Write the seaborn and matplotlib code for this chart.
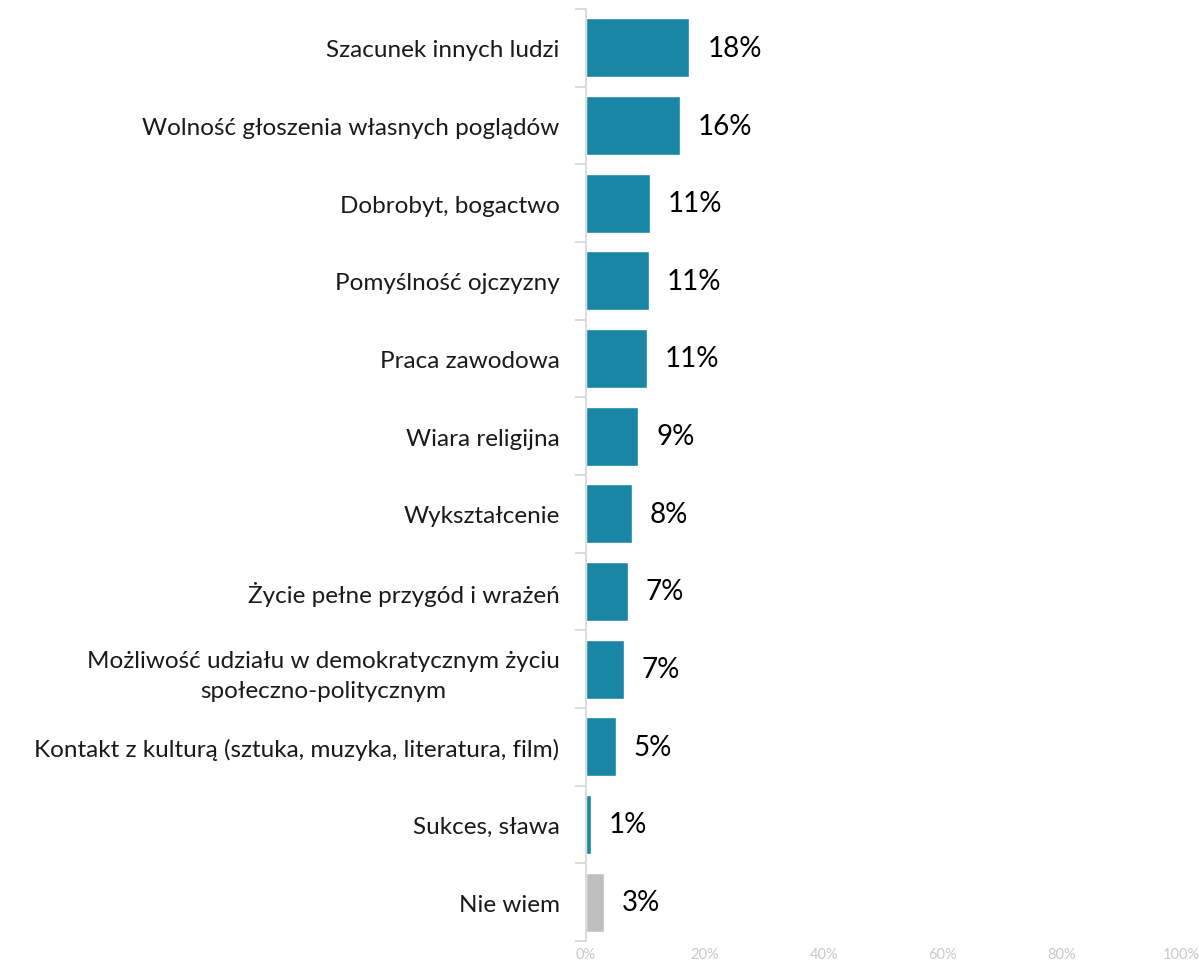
import numpy as np
import pandas as pd
import matplotlib
matplotlib.use('Agg')
import matplotlib.pyplot as plt
import seaborn as sns
from matplotlib.ticker import PercentFormatter

categories = [
    'Szacunek innych ludzi',
    'Wolność głoszenia własnych poglądów',
    'Dobrobyt, bogactwo',
    'Pomyślność ojczyzny',
    'Praca zawodowa',
    'Wiara religijna',
    'Wykształcenie',
    'Życie pełne przygód i wrażeń',
    'Możliwość udziału w demokratycznym życiu\nspołeczno-politycznym',
    'Kontakt z kulturą (sztuka, muzyka, literatura, film)',
    'Sukces, sława',
    'Nie wiem',
]
values = [17.4, 15.8, 10.7, 10.6, 10.3, 8.8, 7.7, 7.0, 6.4, 5.0, 0.9, 3.0]
labels = ['18%', '16%', '11%', '11%', '11%', '9%', '8%', '7%', '7%', '5%', '1%', '3%']
groups = ['main'] * 11 + ['dk']

df = pd.DataFrame({'cat': categories, 'val': values, 'grp': groups})

sns.set_style('white')
plt.rcParams['font.family'] = ['Lato', 'DejaVu Sans']

fig = plt.figure(figsize=(11.99, 9.62), dpi=100)
ax = fig.add_axes([0.4887, 0.0208, 0.4963, 0.9688])

sns.barplot(data=df, x='val', y='cat', hue='grp', dodge=False, legend=False,
            palette={'main': '#1a86a6', 'dk': '#bfbfbf'}, saturation=1,
            width=0.76, ax=ax)

for i, (v, lab) in enumerate(zip(values, labels)):
    ax.text(v + 3.0, i, lab, va='center', ha='left', fontsize=20, color='black')

ax.set_xlim(0, 100)
ax.set_ylim(11.5, -0.5)
ax.set_xlabel('')
ax.set_ylabel('')
ax.xaxis.set_major_formatter(PercentFormatter(decimals=0))
ax.set_xticks([0, 20, 40, 60, 80, 100])
ax.tick_params(axis='x', length=0, labelsize=10.5, labelcolor='#c8c8c8', pad=4)

ax.set_yticks(np.arange(len(categories)))
ax.set_yticklabels(categories, fontsize=17.5, color='#1a1a1a',
                   multialignment='center', linespacing=1.5)
ax.set_yticks(np.arange(-0.5, len(categories)), minor=True)
ax.tick_params(axis='y', which='major', left=False, length=0, pad=19)
ax.tick_params(axis='y', which='minor', left=True, length=8,
               color='#d9d9d9', width=1.3)

for s in ['top', 'right', 'bottom']:
    ax.spines[s].set_visible(False)
ax.spines['left'].set_color('#d9d9d9')
ax.spines['left'].set_linewidth(1.3)

fig.savefig('out.png', dpi=100)
